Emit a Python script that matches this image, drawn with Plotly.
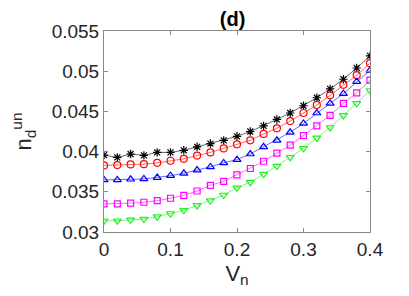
import plotly.graph_objects as go

vn = [0.0, 0.02, 0.04, 0.06, 0.08, 0.10, 0.12, 0.14, 0.16, 0.18, 0.20,
      0.22, 0.24, 0.26, 0.28, 0.30, 0.32, 0.34, 0.36, 0.38, 0.40]

s_black = [0.03957, 0.03928, 0.0397, 0.03953, 0.0399, 0.0399, 0.04016, 0.0406, 0.0410, 0.0414, 0.0419,
           0.0425, 0.0432, 0.0440, 0.0448, 0.0457, 0.0467, 0.0478, 0.0490, 0.0504, 0.0519]
s_red = [0.03828, 0.03832, 0.0384, 0.03844, 0.0386, 0.03886, 0.0391, 0.0395, 0.0399, 0.0404, 0.0409,
         0.0414, 0.0422, 0.0429, 0.0438, 0.0448, 0.0458, 0.0470, 0.0483, 0.0495, 0.0510]
s_blue = [0.03648, 0.03648, 0.03656, 0.0366, 0.03677, 0.0370, 0.0373, 0.0377, 0.0381, 0.0386, 0.0390,
          0.0397, 0.0406, 0.0414, 0.0424, 0.0435, 0.0448, 0.0460, 0.0472, 0.0487, 0.0501]
s_magenta = [0.0335, 0.0335, 0.03359, 0.0337, 0.0339, 0.0342, 0.03456, 0.0351, 0.0358, 0.0363, 0.0371,
             0.0379, 0.0388, 0.0398, 0.0408, 0.0420, 0.0432, 0.0445, 0.0460, 0.0473, 0.0489]
s_green = [0.0314, 0.0314, 0.03151, 0.0316, 0.0319, 0.0323, 0.0327, 0.0333, 0.0339, 0.0346, 0.0355,
           0.0362, 0.0372, 0.0382, 0.0393, 0.0404, 0.0417, 0.0430, 0.0445, 0.0460, 0.0476]

x_ticks = [0, 0.1, 0.2, 0.3, 0.4]
x_tick_labels = ["0", "0.1", "0.2", "0.3", "0.4"]
y_ticks = [0.03, 0.035, 0.04, 0.045, 0.05, 0.055]
y_tick_labels = ["0.03", "0.035", "0.04", "0.045", "0.05", "0.055"]

series = [
    (s_black, "black", "asterisk-open", 7),
    (s_red, "red", "circle-open", 7),
    (s_blue, "blue", "triangle-up-open", 7),
    (s_magenta, "magenta", "square-open", 6),
    (s_green, "#22ee22", "triangle-down-open", 7),
]

FONT = "Liberation Sans, Arial, sans-serif"

fig = go.Figure()
for ys, col, sym, sz in series:
    fig.add_trace(go.Scatter(
        x=vn, y=ys, mode="lines+markers",
        line=dict(color=col, width=0.6),
        marker=dict(symbol=sym, size=sz, color=col, line=dict(color=col, width=1.2)),
        showlegend=False,
    ))

axis_common = dict(
    showgrid=False, zeroline=False, showline=True, linecolor="#888888", linewidth=1,
    mirror="ticks", ticks="inside", ticklen=4, tickcolor="#888888", automargin=False,
    tickfont=dict(family=FONT, size=19, color="#262626"),
)

# page body has an 8px default margin, so the figure is offset by 8px
fig.update_layout(
    width=401, height=288,
    margin=dict(l=96, r=39, t=23, b=64),
    paper_bgcolor="white", plot_bgcolor="white",
    title=dict(text="<b>(d)</b>", x=0.56, xanchor="center", y=0.962, yanchor="middle",
               font=dict(family=FONT, size=20, color="black")),
    xaxis=dict(range=[0, 0.4], tickvals=x_ticks, ticktext=x_tick_labels,
               title=dict(text="V<sub>n</sub>", standoff=6,
                          font=dict(family=FONT, size=22, color="#262626")),
               **axis_common),
    yaxis=dict(range=[0.03, 0.055], tickvals=y_ticks, ticktext=y_tick_labels,
               title=dict(text="n<sub>d</sub><sup>un</sup>", standoff=16,
                          font=dict(family=FONT, size=22, color="#262626")),
               **axis_common),
)

fig.write_html("out.html")
